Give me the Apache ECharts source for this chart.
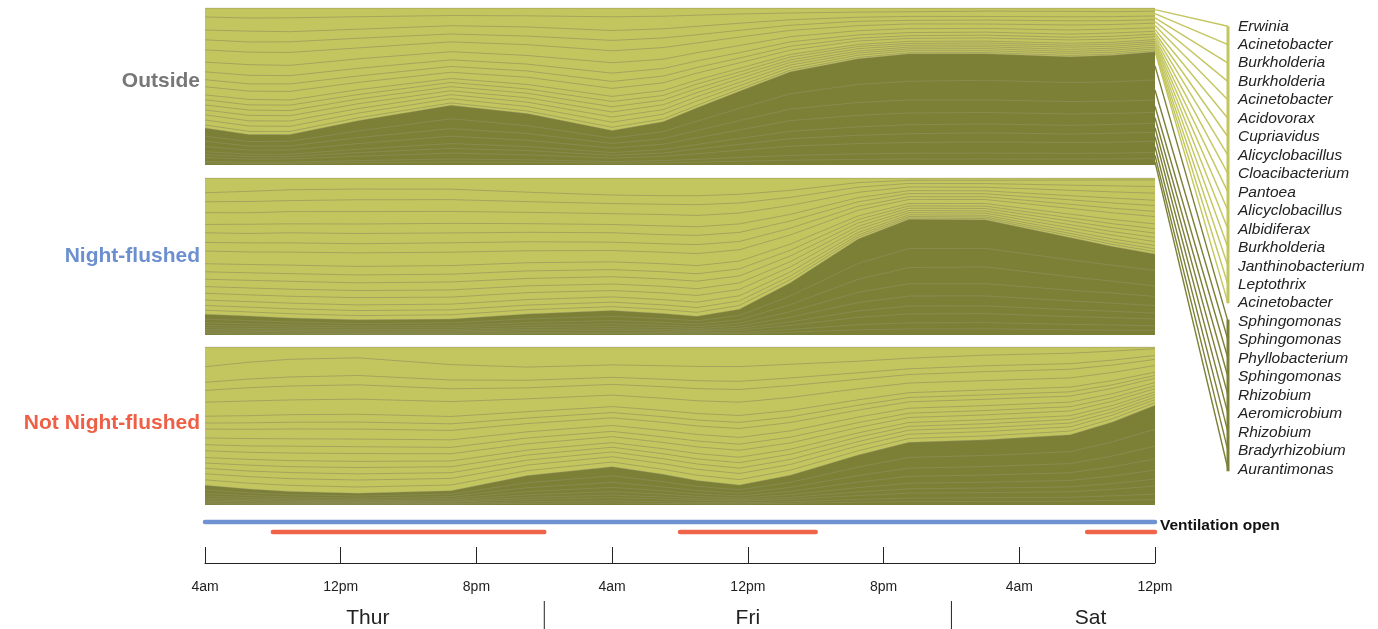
<!DOCTYPE html>
<html><head><meta charset="utf-8">
<script src="https://cdn.jsdelivr.net/npm/echarts@6/dist/echarts.min.js"></script>
<style>html,body{margin:0;padding:0;background:#fff}#c{width:1378px;height:629px}</style>
</head><body><div id="c"></div>
<script>
// ---- data ----
const hours = [0,2.6,5,9,14.5,19,24,27,29,31.5,34.5,38.5,41.5,46,51,53.5,56];
const taxa = ['Erwinia','Acinetobacter','Burkholderia','Burkholderia','Acinetobacter','Acidovorax','Cupriavidus','Alicyclobacillus','Cloacibacterium','Pantoea','Alicyclobacillus','Albidiferax','Burkholderia','Janthinobacterium','Leptothrix','Acinetobacter','Sphingomonas','Sphingomonas','Phyllobacterium','Sphingomonas','Rhizobium','Aeromicrobium','Rhizobium','Bradyrhizobium','Aurantimonas'];
const panelNames = ['Outside','Night-flushed','Not Night-flushed'];
const tickLabels = ['4am','12pm','8pm','4am','12pm','8pm','4am','12pm'];
const dayNames = ['Thur','Fri','Sat'];
const dayLabelAt = [9.6,32,52.2];
const dayBreaks = [20,44];
const nightFlushedOpen = [[0,56]];
const notNightFlushedOpen = [[4,20],[28,36],[52,56]];

const outsideLight = [
[5.7,6.4,6.3,5.6,4.8,5.0,5.6,5.2,4.6,3.8,3.2,2.6,2.4,2.0,2.1,2.4,2.0],
[8.3,8.4,8.9,8.0,6.5,7.1,8.7,8.0,7.1,5.9,4.3,3.3,3.0,3.4,3.5,3.1,3.1],
[6.3,6.9,6.5,5.8,5.3,5.8,6.3,5.8,5.4,4.5,3.5,2.6,2.5,2.3,2.5,2.6,2.4],
[6.4,6.5,6.8,6.2,5.0,5.5,6.6,6.1,5.2,4.3,3.3,2.8,2.3,2.5,2.7,2.4,2.2],
[7.8,8.0,8.3,7.0,6.3,6.9,7.6,7.4,6.2,5.4,4.0,3.2,3.0,2.8,3.2,2.9,2.9],
[6.2,6.8,6.6,6.1,5.2,5.5,6.6,5.9,5.3,4.5,3.3,2.7,2.5,2.4,2.6,2.5,2.3],
[5.0,5.5,5.3,4.9,4.2,4.4,5.3,4.8,4.2,3.5,2.8,2.1,2.0,1.9,2.0,2.1,1.8],
[4.5,4.6,4.8,4.1,3.7,4.0,4.4,4.3,3.6,3.0,2.5,1.8,1.7,1.8,1.7,1.8,1.6],
[5.2,5.3,5.5,4.7,4.0,4.6,5.1,4.9,4.4,3.5,2.7,2.2,1.9,2.0,2.1,2.0,1.9],
[3.1,3.5,3.3,3.1,2.5,2.9,3.2,3.1,2.6,2.3,1.7,1.3,1.3,1.2,1.3,1.2,1.2],
[3.3,3.3,3.5,2.9,2.7,2.7,3.4,2.9,2.8,2.1,1.8,1.4,1.2,1.3,1.2,1.3,1.1],
[3.2,3.4,3.3,3.0,2.6,2.9,3.3,3.0,2.7,2.2,1.6,1.5,1.2,1.1,1.4,1.3,1.2],
[3.1,3.5,3.4,3.1,2.5,2.8,3.2,3.1,2.6,2.3,1.7,1.3,1.1,1.2,1.3,1.2,1.3],
[3.3,3.3,3.4,2.9,2.6,2.8,3.3,2.9,2.7,2.2,1.7,1.4,1.2,1.3,1.2,1.3,1.1],
[3.2,3.4,3.3,3.0,2.7,2.8,3.2,3.0,2.8,2.1,1.6,1.4,1.3,1.2,1.3,1.2,1.2],
[1.9,2.0,2.0,1.8,1.5,1.7,2.0,1.8,1.6,1.3,1.0,0.8,0.7,0.7,0.8,0.7,0.7]
];
const outsideDark = [
[5.2,4.5,4.3,6.6,8.6,7.7,4.9,6.2,8.5,11.0,14.0,16.5,17.5,17.0,16.5,17.0,18.0],
[3.3,2.9,3.0,4.3,6.3,5.0,3.4,4.5,6.0,7.8,9.8,11.5,12.0,12.5,12.0,12.3,12.8],
[3.3,2.6,2.6,3.8,4.8,4.3,2.9,3.5,4.6,5.9,7.4,8.2,8.3,8.0,7.9,7.8,7.9],
[3.3,2.6,2.7,3.6,4.7,4.0,2.9,3.4,4.3,5.4,6.8,7.4,7.5,7.3,7.2,7.0,6.9],
[1.9,1.5,1.5,2.2,3.1,2.6,1.7,2.2,2.9,3.8,4.7,5.4,5.7,5.7,5.5,5.6,5.8],
[1.8,1.6,1.5,2.3,3.0,2.7,1.8,2.1,3.0,3.7,4.8,5.3,5.6,5.8,5.4,5.7,5.7],
[2.5,2.0,2.0,2.8,3.8,3.2,2.2,2.7,3.6,4.6,5.9,6.6,6.9,7.1,6.9,7.0,7.1],
[1.0,0.8,0.8,1.3,1.9,1.6,1.0,1.4,1.8,2.4,3.0,3.5,3.7,3.8,3.7,3.7,4.0],
[1.3,1.0,1.1,1.5,1.9,1.7,1.2,1.4,1.8,2.4,3.1,3.6,3.8,3.8,3.7,3.8,4.1]
];
const nightLight = [
[9.5,8.5,7.5,7.0,7.0,9.0,11.0,11.5,11.5,10.5,8.0,3.0,1.5,1.5,1.3,1.2,1.2],
[5.8,6.5,6.9,6.8,6.6,6.0,5.5,5.6,5.8,5.6,4.5,3.0,2.0,2.1,3.2,3.6,4.0],
[7.0,7.2,7.0,7.5,7.4,6.8,6.5,6.7,7.0,6.5,5.2,3.3,2.3,2.4,3.2,3.7,4.1],
[7.6,7.3,7.8,7.9,7.5,7.2,7.0,7.4,7.3,7.0,5.8,3.5,2.4,2.3,3.4,3.8,4.3],
[5.4,5.9,5.7,6.0,6.0,5.5,5.3,5.7,5.6,5.5,4.3,2.7,1.9,1.9,2.6,3.0,3.3],
[6.2,6.0,6.4,6.5,6.2,6.0,6.1,5.9,6.0,5.9,4.6,2.9,2.0,1.9,2.8,3.2,3.5],
[5.5,5.8,5.9,5.8,5.9,5.7,5.4,5.5,5.8,5.3,4.4,2.6,1.8,1.8,2.6,2.8,3.2],
[8.2,8.0,8.3,8.6,8.4,7.6,7.3,7.5,7.8,7.3,5.9,3.7,2.6,2.6,3.6,4.1,4.5],
[5.2,5.3,5.4,5.4,5.4,5.2,5.0,5.2,5.3,5.0,4.0,2.4,1.6,1.7,2.3,2.6,2.9],
[4.8,4.8,4.9,5.0,4.9,4.8,4.6,4.7,4.8,4.6,3.7,2.2,1.5,1.5,2.1,2.4,2.7],
[4.7,4.9,5.0,4.9,5.0,4.7,4.7,4.8,4.9,4.5,3.6,2.2,1.5,1.6,2.2,2.4,2.7],
[4.3,4.4,4.5,4.5,4.5,4.3,4.2,4.3,4.4,4.2,3.4,2.0,1.4,1.4,2.0,2.2,2.5],
[4.4,4.3,4.4,4.6,4.4,4.4,4.1,4.4,4.3,4.1,3.3,2.0,1.4,1.4,1.9,2.3,2.4],
[3.5,3.5,3.6,3.6,3.6,3.5,3.4,3.4,3.5,3.3,2.7,1.6,1.1,1.1,1.6,1.8,2.0],
[3.0,3.1,3.1,3.2,3.1,3.0,2.9,3.0,3.1,2.9,2.3,1.4,1.0,1.0,1.4,1.5,1.7],
[2.6,2.6,2.7,2.7,2.7,2.6,2.5,2.6,2.6,2.5,2.0,1.2,0.8,0.8,1.2,1.3,1.5]
];
const nightDark = [
[3.2,2.9,2.6,2.3,2.4,3.2,3.8,3.4,2.9,4.0,8.5,16.0,19.0,18.5,14.0,11.5,10.0],
[2.3,2.1,1.8,1.6,1.7,2.3,2.7,2.4,2.1,2.8,5.6,10.3,12.3,12.0,10.6,9.8,9.5],
[1.7,1.6,1.4,1.2,1.3,1.7,2.1,1.8,1.6,2.2,4.5,8.5,10.5,10.8,8.5,7.2,6.4],
[1.5,1.3,1.2,1.1,1.1,1.5,1.7,1.5,1.3,1.8,3.6,6.7,8.0,7.9,6.7,6.2,5.6],
[1.2,1.1,1.0,0.9,0.9,1.2,1.4,1.3,1.1,1.5,3.0,5.4,6.5,6.5,5.5,5.0,4.6],
[0.9,0.8,0.8,0.7,0.7,0.9,1.1,1.0,0.8,1.2,2.3,4.2,5.1,5.0,4.3,3.9,3.6],
[1.1,1.0,0.9,0.8,0.8,1.1,1.3,1.1,1.0,1.3,2.6,4.8,5.8,5.8,4.9,4.5,4.1],
[0.7,0.7,0.6,0.5,0.6,0.7,0.9,0.8,0.7,0.9,1.8,3.3,4.0,4.0,3.4,3.1,2.8],
[0.8,0.6,0.6,0.5,0.5,0.8,0.8,0.7,0.6,0.9,1.8,3.4,3.9,4.0,3.3,3.0,2.9]
];
const notNightLight = [
[12.7,9.5,7.5,6.5,11.0,13.0,11.5,12.0,12.5,12.5,11.0,9.0,7.0,5.0,3.8,2.5,1.0],
[10.0,10.5,10.8,10.6,9.6,8.5,8.0,8.6,9.2,9.4,8.7,7.3,6.6,6.5,6.4,5.5,4.0],
[5.2,5.4,5.5,5.6,5.5,4.9,4.5,4.8,5.1,5.2,4.9,4.1,3.6,3.6,3.4,3.0,2.3],
[7.6,8.3,8.5,8.6,8.0,7.1,6.9,7.4,7.8,8.1,7.5,6.0,5.3,5.5,5.3,4.5,3.6],
[9.0,9.2,9.0,9.1,9.3,8.3,7.4,7.8,8.2,8.5,8.3,7.0,6.0,5.8,5.6,5.0,3.9],
[4.4,4.5,4.6,4.7,4.6,4.1,3.8,4.0,4.2,4.4,4.1,3.4,3.0,3.0,2.9,2.5,1.9],
[3.9,4.0,4.1,4.2,4.1,3.6,3.4,3.6,3.8,3.9,3.6,3.1,2.7,2.7,2.6,2.2,1.7],
[5.7,5.8,6.0,6.0,5.9,5.3,4.9,5.2,5.5,5.7,5.3,4.4,4.0,3.9,3.7,3.2,2.5],
[4.3,4.6,4.5,4.6,4.7,4.0,3.8,4.1,4.2,4.3,4.0,3.5,3.1,3.0,2.8,2.5,1.9],
[3.9,4.0,4.2,4.1,4.0,3.7,3.4,3.6,3.8,3.9,3.7,3.1,2.7,2.7,2.6,2.2,1.7],
[4.4,4.4,4.6,4.7,4.5,4.1,3.8,4.0,4.3,4.4,4.0,3.4,3.1,3.0,2.9,2.5,1.9],
[3.5,3.6,3.7,3.7,3.6,3.2,3.0,3.2,3.4,3.5,3.2,2.7,2.4,2.4,2.3,2.0,1.5],
[3.4,3.7,3.6,3.8,3.7,3.3,3.0,3.2,3.3,3.5,3.3,2.8,2.4,2.4,2.2,2.0,1.6],
[3.5,3.5,3.7,3.7,3.6,3.2,3.1,3.2,3.4,3.4,3.2,2.7,2.5,2.4,2.3,1.9,1.5],
[3.9,4.1,4.1,4.2,4.1,3.6,3.4,3.6,3.8,3.9,3.6,3.1,2.7,2.7,2.6,2.2,1.7],
[3.5,3.6,3.7,3.7,3.6,3.2,3.0,3.2,3.4,3.5,3.2,2.7,2.4,2.4,2.3,2.0,1.5]
];
const notNightDark = [
[3.0,2.4,2.0,1.7,2.1,4.6,5.9,4.7,3.8,3.0,4.6,7.6,9.4,9.6,10.3,12.1,14.0],
[2.2,1.7,1.4,1.2,1.5,3.2,4.2,3.3,2.7,2.2,3.2,5.4,6.7,6.8,7.3,8.6,10.0],
[1.7,1.3,1.1,0.9,1.2,2.5,3.2,2.5,2.1,1.7,2.5,4.1,5.1,5.2,5.6,6.6,7.6],
[1.4,1.1,0.9,0.8,1.0,2.1,2.7,2.2,1.7,1.4,2.1,3.5,4.3,4.4,4.7,5.6,6.5],
[1.1,0.9,0.7,0.6,0.8,1.7,2.2,1.8,1.4,1.1,1.7,2.8,3.5,3.6,3.9,4.6,5.3],
[0.9,0.7,0.6,0.5,0.6,1.3,1.7,1.4,1.1,0.9,1.3,2.2,2.7,2.8,3.0,3.5,4.1],
[1.0,0.8,0.7,0.6,0.7,1.5,2.0,1.6,1.3,1.0,1.5,2.5,3.1,3.2,3.4,4.0,4.7],
[0.7,0.6,0.5,0.4,0.5,1.0,1.4,1.1,0.9,0.7,1.0,1.7,2.2,2.2,2.4,2.8,3.2],
[0.7,0.5,0.4,0.4,0.5,1.1,1.3,1.0,0.8,0.7,1.1,1.8,2.1,2.2,2.3,2.8,3.2]
];

// ---- build ----
const LIGHT = '#c3c65e', DARK = '#7b8036';
const FONT = '"Liberation Sans", Arial, sans-serif';
const panelRaw = [
  outsideLight.concat(outsideDark),
  nightLight.concat(nightDark),
  notNightLight.concat(notNightDark)
];
const lightCount = outsideLight.length;
// relative abundance (% of each sample), then cumulative top of every layer
const panelNorm = panelRaw.map(rows => {
  const tot = hours.map((_, t) => rows.reduce((s, r) => s + r[t], 0));
  return rows.map(r => r.map((v, t) => v * 100 / tot[t]));
});
const panelTop = panelNorm.map(rows => {
  const n = rows.length;
  return rows.map((r, k) => r.map((_, t) => {
    let s = 0; for (let j = k; j < n; j++) s += rows[j][t]; return s;
  }));
});

const grids = [
  {left:205, top:8,   width:950, height:157},
  {left:205, top:178, width:950, height:157},
  {left:205, top:347, width:950, height:158},
  {left:205, top:517, width:950, height:20},
  {left:205, top:547, width:950, height:16},
  {left:1227, top:17, width:1, height:461.5}
];
const xAxes = [], yAxes = [];
for (let i = 0; i < 3; i++) {
  xAxes.push({type:'value', gridIndex:i, min:0, max:56, show:false});
  yAxes.push({type:'value', gridIndex:i, min:0, max:100, show:false});
}
xAxes.push({type:'value', gridIndex:3, min:0, max:56, show:false});
yAxes.push({type:'category', gridIndex:3, data:['Night-flushed','Not Night-flushed'], inverse:true, show:false});
xAxes.push({type:'value', gridIndex:4, min:0, max:56, interval:8,
  axisLine:{show:true, lineStyle:{color:'#222', width:1}},
  axisTick:{show:true, inside:true, length:16, lineStyle:{color:'#222', width:1}},
  axisLabel:{show:true, margin:17, fontSize:14, color:'#222', fontFamily:FONT,
    showMinLabel:true, showMaxLabel:true,
    formatter: v => tickLabels[Math.round(v/8)] || ''},
  splitLine:{show:false}});
yAxes.push({type:'value', gridIndex:4, show:false});
xAxes.push({type:'value', gridIndex:5, min:0, max:1, show:false});
yAxes.push({type:'category', gridIndex:5, data:taxa, inverse:true, position:'right',
  axisLine:{show:false}, axisTick:{show:false}, splitLine:{show:false},
  axisLabel:{interval:0, margin:10, fontSize:15.5, fontStyle:'italic', color:'#222', fontFamily:FONT}});

const series = [];
panelTop.forEach((rows, p) => {
  // top layer first; each lower layer is painted over the one above it
  rows.forEach((r, k) => {
    const isLight = k < lightCount;
    series.push({
      type:'line', name: taxa[k], xAxisIndex:p, yAxisIndex:p,
      symbol:'none', silent:true, smooth:false,
      lineStyle:{width:0.8, color: isLight ? 'rgba(120,112,95,0.5)' : 'rgba(160,155,125,0.45)'},
      areaStyle:{color: isLight ? LIGHT : DARK, opacity:1, origin:'start'},
      data: hours.map((h, t) => [h, r[t]])
    });
  });
});
nightFlushedOpen.forEach(iv => {
  series.push({type:'line', xAxisIndex:3, yAxisIndex:3, symbol:'none', silent:true,
    lineStyle:{color:'#6f93d2', width:4.5, cap:'round'},
    data:[[iv[0],'Night-flushed'],[iv[1],'Night-flushed']]});
});
notNightFlushedOpen.forEach(iv => {
  series.push({type:'line', xAxisIndex:3, yAxisIndex:3, symbol:'none', silent:true,
    lineStyle:{color:'#ef6448', width:4.5, cap:'round'},
    data:[[iv[0],'Not Night-flushed'],[iv[1],'Not Night-flushed']]});
});

const chart = echarts.init(document.getElementById('c'), null, {renderer:'canvas'});
chart.setOption({animation:false, backgroundColor:'#fff', grid:grids, xAxis:xAxes, yAxis:yAxes, series:series});

// ---- annotations derived from the axes ----
const g = [];
const panelLabelY = [81, 256, 423];
const panelColors = ['#777777', '#6b8fcf', '#ef5f45'];
panelNames.forEach((n, i) => {
  g.push({type:'text', x:200, y:panelLabelY[i], silent:true,
    style:{text:n, fill:panelColors[i], font:'bold 21px ' + FONT,
      textAlign:'right', textVerticalAlign:'middle', align:'right', verticalAlign:'middle'}});
});
// "Ventilation open" next to the end of the blue bar
const lastOpen = nightFlushedOpen[nightFlushedOpen.length - 1];
const vp = chart.convertToPixel({gridIndex:3}, [lastOpen[1], 'Night-flushed']);
g.push({type:'text', x:vp[0] + 5, y:vp[1] + 4, silent:true,
  style:{text:'Ventilation open', fill:'#111', font:'bold 15.5px ' + FONT,
    textAlign:'left', textVerticalAlign:'middle', align:'left', verticalAlign:'middle'}});
// fan lines from right edge of the Outside panel to the taxa labels
const last = hours.length - 1;
const barX = chart.convertToPixel({gridIndex:5}, [1, 0])[0];
const labY = taxa.map((_, i) => chart.convertToPixel({yAxisIndex:5}, i));
taxa.forEach((n, i) => {
  const mid = panelTop[0][i][last] - panelNorm[0][i][last] / 2;
  const p = chart.convertToPixel({gridIndex:0}, [hours[last], mid]);
  const col = i < lightCount ? '#c3c65e' : '#7b8036';
  g.push({type:'line', silent:true, shape:{x1:p[0], y1:p[1], x2:barX, y2:labY[i]},
    style:{stroke:col, lineWidth:1.4}});
});
g.push({type:'line', silent:true, shape:{x1:barX, y1:labY[0], x2:barX, y2:labY[lightCount-1]},
  style:{stroke:'#c3c65e', lineWidth:3}});
g.push({type:'line', silent:true, shape:{x1:barX, y1:labY[lightCount]-2, x2:barX, y2:labY[taxa.length-1]+2},
  style:{stroke:'#7b8036', lineWidth:3}});
// day separators and day names
dayBreaks.forEach(h => {
  const x = chart.convertToPixel({xAxisIndex:4}, h);
  g.push({type:'line', silent:true, shape:{x1:x, y1:601, x2:x, y2:629}, style:{stroke:'#222', lineWidth:1}});
});
dayNames.forEach((n, i) => {
  const x = chart.convertToPixel({xAxisIndex:4}, dayLabelAt[i]);
  g.push({type:'text', x:x, y:618, silent:true,
    style:{text:n, fill:'#222', font:'21px ' + FONT, textAlign:'center', textVerticalAlign:'middle', align:'center', verticalAlign:'middle'}});
});
chart.setOption({graphic:{elements:g}});
</script>
</body></html>
